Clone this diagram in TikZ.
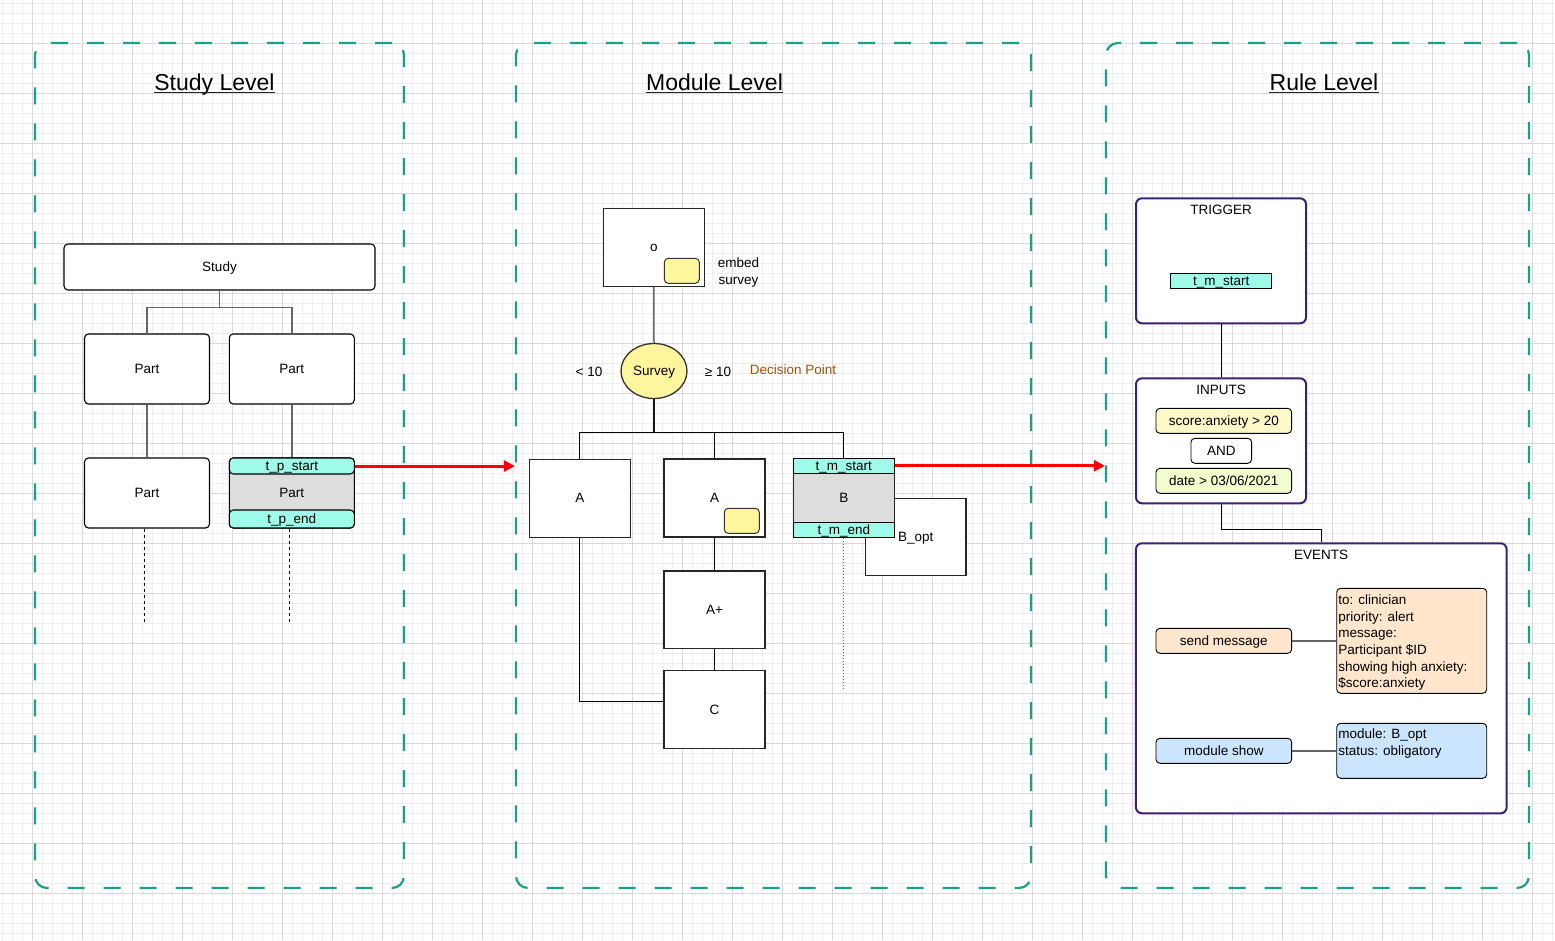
\documentclass[tikz,border=0pt]{standalone}
\usepackage{fontspec}
\setmainfont{Liberation Sans}
\usetikzlibrary{arrows.meta,shapes.geometric}
\definecolor{tealdash}{HTML}{1AA088}
\definecolor{gridminor}{HTML}{EEEEEE}
\definecolor{gridmajor}{HTML}{D9D9D9}
\definecolor{cyanband}{HTML}{9FFBE9}
\definecolor{grayfill}{HTML}{DDDDDD}
\definecolor{yel}{HTML}{FFF59D}
\definecolor{brownlbl}{HTML}{9E5208}
\definecolor{purp}{HTML}{3D1F73}
\definecolor{scorefill}{HTML}{FFF8C8}
\definecolor{datefill}{HTML}{F2FCCC}
\definecolor{peach}{HTML}{FFE6CC}
\definecolor{lblue}{HTML}{CCE5FF}
\definecolor{redarrow}{HTML}{FF0000}
\begin{document}
\begin{tikzpicture}[x=1pt,y=-1pt,
  font=\fontsize{13.5}{16}\selectfont,
  tx/.style={text height=11pt, text depth=2pt},
  frame/.style={draw=tealdash, dash pattern=on 17pt off 19pt, line width=2.2pt, rounded corners=12pt, inner sep=0pt},
  titletxt/.style={font=\fontsize{23}{26}\selectfont, inner sep=0pt, anchor=base},
  uline/.style={draw=black!85, line width=1.3pt},
  box/.style={tx, draw=black, line width=1.1pt, fill=white, rounded corners=4pt, inner sep=0pt},
  sqbox/.style={tx, draw=black!85, line width=1.4pt, fill=white, inner sep=0pt},
  band/.style={tx, draw=black, line width=1.1pt, fill=cyanband, inner sep=0pt},
  smallyel/.style={draw=black!80, line width=1pt, fill=yel, rounded corners=4pt, inner sep=0pt, minimum width=35pt, minimum height=25pt},
  purpbox/.style={draw=purp, line width=2pt, fill=white, rounded corners=6pt, inner sep=0pt},
  pill/.style={tx, draw=black, line width=0.9pt, rounded corners=4pt, inner sep=0pt, minimum height=25pt},
  lbl/.style={tx, inner sep=0pt},
  conngray/.style={draw=black!60, line width=1.5pt},
  connblk/.style={draw=black, line width=1pt},
  connthick/.style={draw=black!90, line width=1.8pt},
  dashline/.style={draw=black, line width=0.8pt, dash pattern=on 3pt off 3pt},
  dotline/.style={draw=black!60, line width=1pt, dash pattern=on 1.5pt off 1.5pt},
  redarr/.style={draw=redarrow, line width=3pt, -{Triangle[length=11pt,width=11pt]}}
]
\useasboundingbox (0,0) rectangle (1555,940);
\fill[white] (0,0) rectangle (1555,940);
% grid
\foreach \gx in {2,12,...,1552} \draw[gridminor, line width=0.8pt] (\gx,0) -- (\gx,940);
\foreach \gy in {3,13,...,933} \draw[gridminor, line width=0.8pt] (0,\gy) -- (1555,\gy);
\foreach \gx in {32,82,...,1532} \draw[gridmajor, line width=1pt] (\gx,0) -- (\gx,940);
\foreach \gy in {43,93,...,893} \draw[gridmajor, line width=1pt] (0,\gy) -- (1555,\gy);

% frames
\node[frame, minimum width=369pt, minimum height=845pt] (fstudy) at (219.5,465.5) {};
\node[frame, minimum width=515pt, minimum height=845pt] (fmodule) at (773.5,465.5) {};
\node[frame, minimum width=423pt, minimum height=845pt] (frule) at (1317.5,465.5) {};
\node[titletxt] (tstudy) at (214.5,90) {Study Level};
\node[titletxt] (tmodule) at (714.5,90) {Module Level};
\node[titletxt] (trule) at (1324,90) {Rule Level};
\draw[uline] ([yshift=-2.8pt]tstudy.base west) -- ([yshift=-2.8pt]tstudy.base east);
\draw[uline] ([yshift=-2.8pt]tmodule.base west) -- ([yshift=-2.8pt]tmodule.base east);
\draw[uline] ([yshift=-2.8pt]trule.base west) -- ([yshift=-2.8pt]trule.base east);

% ---------- Study level ----------
\node[box, minimum width=311pt, minimum height=46pt] (study) at (219.5,267) {Study};
\node[box, minimum width=125pt, minimum height=70pt] (p1) at (147,369) {Part};
\node[box, minimum width=125pt, minimum height=70pt] (p2) at (291.8,369) {Part};
\node[box, minimum width=125pt, minimum height=70pt] (p3) at (147,493) {Part};
\node[box, fill=grayfill, minimum width=125pt, minimum height=70pt] (p4) at (291.8,493) {Part};
\node[band, rounded corners=4pt, minimum width=125pt, minimum height=16pt] (tps) at (291.8,466) {t\_p\_start};
\node[band, rounded corners=4pt, minimum width=125pt, minimum height=18pt] (tpe) at (291.8,519) {t\_p\_end};
\draw[conngray] (study.south) -- ++(0,17) -| (p1.north);
\draw[conngray] (study.south) -- ++(0,17) -| (p2.north);
\draw[conngray] (p1.south) -- (p3.north);
\draw[conngray] (p2.south) -- (tps.north);
\draw[dashline] ([xshift=-2.5pt]p3.south) -- ++(0,94);
\draw[dashline] ([xshift=-2.3pt]tpe.south) -- ++(0,94);
\draw[redarr] (tps.east) -- (fmodule.west |- tps.east);

% ---------- Module level ----------
\node[sqbox, minimum width=101pt, minimum height=78pt] (obox) at (653.8,247.2) {o};
\node[smallyel] (oemb) at (681.8,270.8) {};
\node[align=center, inner sep=0pt, font=\fontsize{13.5}{17}\selectfont] (embl) at (738.5,272.3) {embed\\survey};
\node[ellipse, draw=black!80, fill=yel, line width=1.3pt, minimum width=66pt, minimum height=55pt, inner sep=0pt, tx] (survey) at (654,371) {Survey};
\node[lbl] (lt) at (589,372) {< 10};
\node[lbl] (ge) at (718,372) {≥ 10};
\node[lbl, text=brownlbl] (dp) at (793,370) {Decision Point};

\node[sqbox, minimum width=101pt, minimum height=78pt] (a1) at (579.8,498.2) {A};
\node[sqbox, minimum width=101pt, minimum height=78pt] (a2) at (714.6,498) {A};
\node[smallyel] (a2emb) at (741.8,520.8) {};
\node[sqbox, minimum width=100.3pt, minimum height=77.4pt] (bopt) at (915.8,537) {B\_opt};
\node[sqbox, fill=grayfill, minimum width=101pt, minimum height=79pt] (bouter) at (843.8,497.8) {B};
\node[band, minimum width=101pt, minimum height=15pt] (tms) at (843.8,465.8) {t\_m\_start};
\node[band, minimum width=101pt, minimum height=14.6pt] (tme) at (843.8,530) {t\_m\_end};
\node[sqbox, minimum width=101pt, minimum height=77.3pt] (aplus) at (714.6,609.7) {A+};
\node[sqbox, minimum width=101pt, minimum height=77.6pt] (cbox) at (714.6,709.5) {C};

\draw[conngray] (obox.south) -- (survey.north);
\draw[connthick] (survey.south) -- ++(0,33) coordinate (mj);
\draw[connblk] (mj) -| (a1.north);
\draw[connblk] (mj) -| (a2.north);
\draw[connblk] (mj) -| (tms.north);
\draw[connblk] (a2.south) -- (aplus.north);
\draw[connblk] (aplus.south) -- (cbox.north);
\draw[connblk] (a1.south) |- ([yshift=8pt]cbox.west);
\draw[dotline] (tme.south) -- ++(0,152);
\draw[redarr] (tms.east) -- (frule.west |- tms.east);

% ---------- Rule level ----------
\node[purpbox, minimum width=170pt, minimum height=125pt] (trig) at (1221,260.8) {};
\node[lbl] (trigl) at (1221,210) {TRIGGER};
\node[band, line width=1pt, minimum width=101pt, minimum height=15pt] (tmsr) at (1221.2,280.8) {t\_m\_start};
\node[purpbox, minimum width=170pt, minimum height=125pt] (inp) at (1221,440.8) {};
\node[lbl] (inpl) at (1221,390) {INPUTS};
\node[pill, fill=scorefill, minimum width=135.7pt] (score) at (1223.8,420.8) {score:anxiety > 20};
\node[pill, fill=white, minimum width=60.7pt] (andn) at (1221.3,450.8) {AND};
\node[pill, fill=datefill, minimum width=135.7pt] (date) at (1223.8,480.8) {date > 03/06/2021};
\node[purpbox, minimum width=370.7pt, minimum height=270pt] (events) at (1321.3,678.3) {};
\node[lbl] (evl) at (1321,555) {EVENTS};
\node[pill, fill=peach, minimum width=135.7pt] (sendm) at (1223.8,640.8) {send message};
\node[pill, fill=peach, minimum width=150pt, minimum height=105pt] (msgd) at (1411.7,640.8) {};
\node[anchor=north west, inner sep=0pt, align=left, font=\fontsize{13.5}{16.67}\selectfont] (msgt) at ([xshift=1.8pt,yshift=-6.5pt]msgd.north west) {to: clinician\\priority: alert\\message:\\Participant \$ID\\showing high anxiety:\\\$score:anxiety};
\node[pill, fill=lblue, minimum width=135.7pt] (modshow) at (1223.8,750.8) {module show};
\node[pill, fill=lblue, minimum width=150pt, minimum height=55pt] (modd) at (1411.7,750.8) {};
\node[anchor=north west, inner sep=0pt, align=left, font=\fontsize{13.5}{16.67}\selectfont] (modt) at ([xshift=1.8pt,yshift=-5.7pt]modd.north west) {module: B\_opt\\status: obligatory};

\draw[connblk] (trig.south) -- (inp.north);
\draw[connblk] (inp.south) -- ++(0,25) -| (events.north);
\draw[conngray] (sendm.east) -- (msgd.west);
\draw[conngray] (modshow.east) -- (modd.west);
\end{tikzpicture}
\end{document}
